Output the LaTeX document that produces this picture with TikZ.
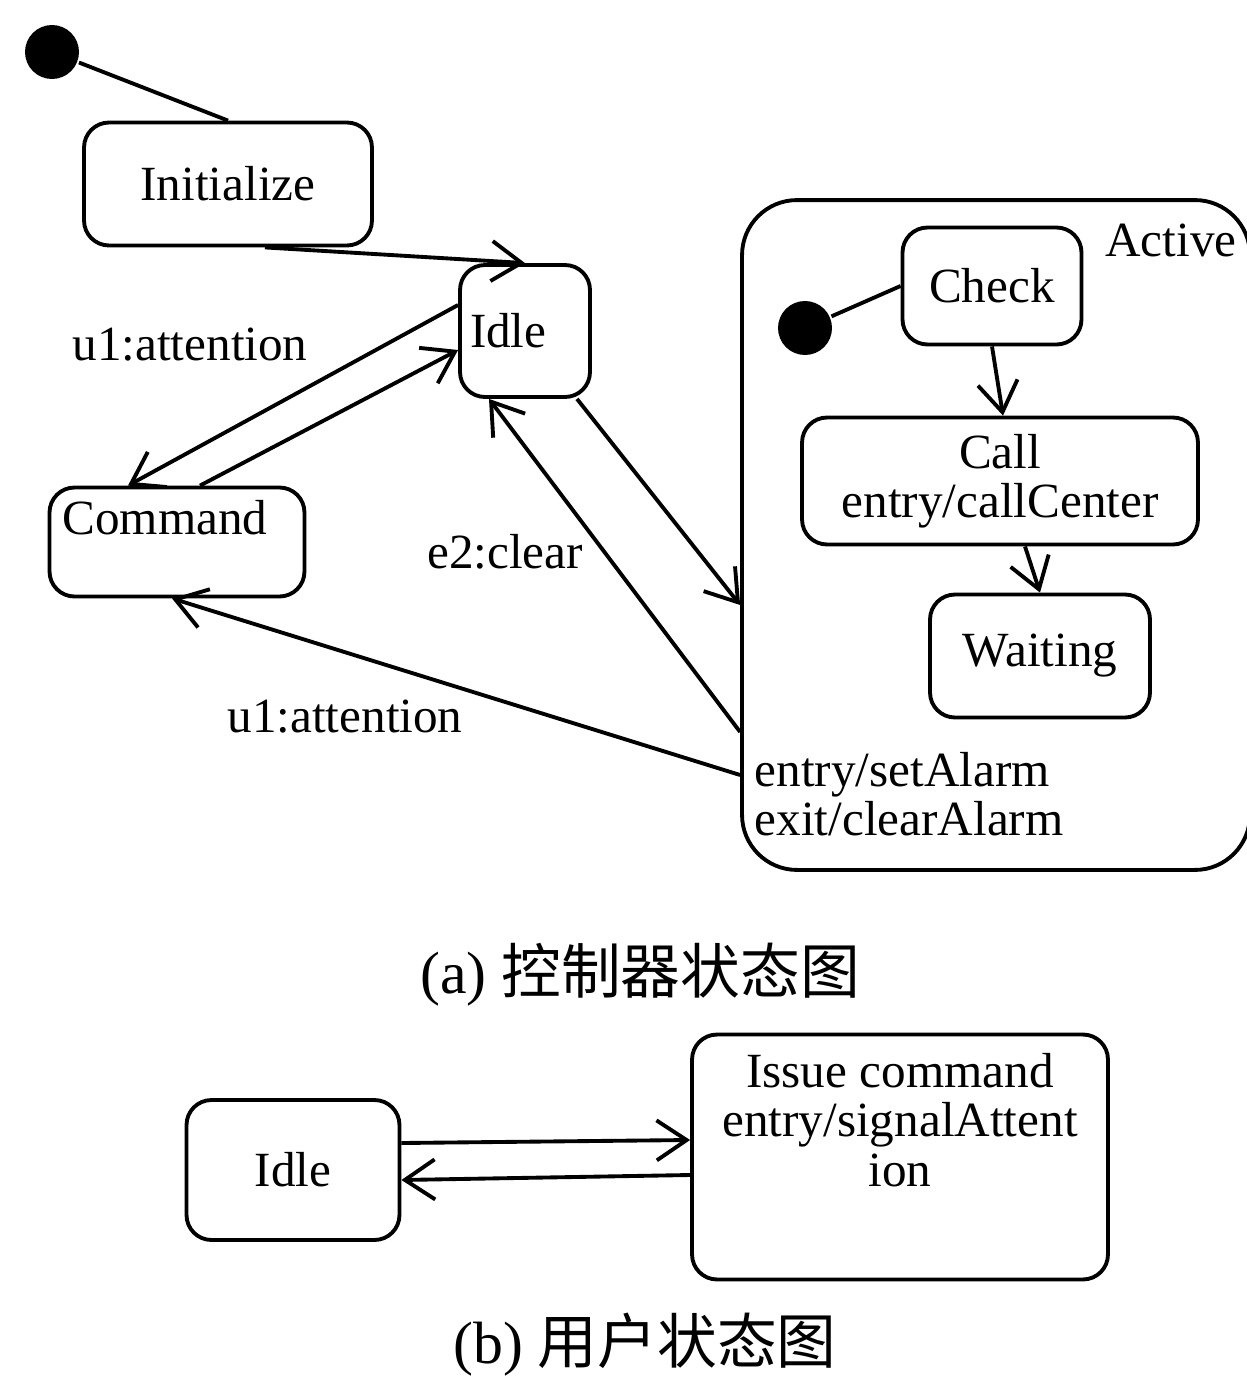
\documentclass[tikz,border=0pt]{standalone}
\usepackage{fontspec}
\setmainfont{Liberation Serif}
\newfontfamily\cjk{Noto Sans CJK SC}
\usetikzlibrary{arrows.meta,calc}

\begin{document}
\begin{tikzpicture}[x=0.02cm,y=-0.02cm,line width=2.2pt,
        >={Straight Barb[length=0.6cm,width=0.8cm]},
        font=\fontsize{28}{28}\selectfont,
        state/.style={draw,rounded corners=0.5cm,inner sep=0pt},
        dot/.style={circle,fill=black,minimum size=1.08cm,inner sep=0pt}]
        \path[use as bounding box,fill=white] (0,0) rectangle (1247,1383);
        % (a) controller
        \node [dot] (start) at (52,52) {};
        \node [state,minimum width=5.76cm,minimum height=2.46cm] (init) at (228,184) {Initialize};
        \node [state,minimum width=2.6cm,minimum height=2.64cm,text width=2.2cm,align=left] (idle) at (525,331) {Idle};
        \node [state,minimum width=5.1cm,minimum height=2.18cm] (cmd) at (177,542) {};
        \node (cmdtxt) at (165,518) {Command};
        \node [state,rounded corners=1.1cm,minimum width=10.16cm,minimum height=13.4cm] (active) at (996,535) {};
        \node (acttxt) at (1171,240) {Active};
        \node [anchor=west,align=left] (actdo) at (747,794) {entry/setAlarm\\exit/clearAlarm};
        \node [dot] (sub) at (805,328) {};
        \node [state,minimum width=3.58cm,minimum height=2.34cm] (check) at (992,286) {Check};
        \node [state,minimum width=7.92cm,minimum height=2.54cm,align=center] (call) at (1000,481) {Call\\entry/callCenter};
        \node [state,minimum width=4.4cm,minimum height=2.46cm] (wait) at (1040,656) {Waiting};
        \node (attnA) at (190,345) {u1:attention};
        \node (clear) at (505,552) {e2:clear};
        \node (attnB) at (345,717) {u1:attention};
        \draw (start) -- (init.north);
        \draw [->] ($(init.south)+(37,0)$) -- (idle.north);
        \draw [->] ($(idle.west)+(0,-26)$) -- ($(cmd.north)+(-49,0)$);
        \draw [->] ($(cmd.north)+(23,0)$) -- ($(idle.west)+(0,19)$);
        \draw [->] ($(active.west)+(0,197)$) -- ($(idle.south)+(-36,0)$);
        \draw [->] ($(idle.south)+(52,0)$) -- ($(active.west)+(0,70)$);
        \draw [->] ($(active.west)+(0,240)$) -- ($(cmd.south)+(-5,0)$);
        \draw (sub) -- (check.west);
        \draw [->] (check.south) -- ($(call.north)+(3,0)$);
        \draw [->] ($(call.south)+(25,0)$) -- (wait.north);
        \node (capA) at (640,975) {\fontsize{34}{40}\selectfont (a)\ \cjk 控制器状态图};
        % (b) user
        \node [state,minimum width=4.26cm,minimum height=2.8cm] (idleb) at (293,1170) {Idle};
        \node [state,minimum width=8.32cm,minimum height=4.9cm] (issue) at (900,1157) {};
        \node [align=center] (issuetxt) at (900,1120) {Issue command\\entry/signalAttent\\ion};
        \draw [->] ($(idleb.east)+(0,-27)$) -- ($(issue.west)+(0,-17)$);
        \draw [->] ($(issue.west)+(0,18)$) -- ($(idleb.east)+(0,10)$);
        \node (capB) at (645,1345) {\fontsize{34}{40}\selectfont (b)\ \cjk 用户状态图};
    \end{tikzpicture}
\end{document}
